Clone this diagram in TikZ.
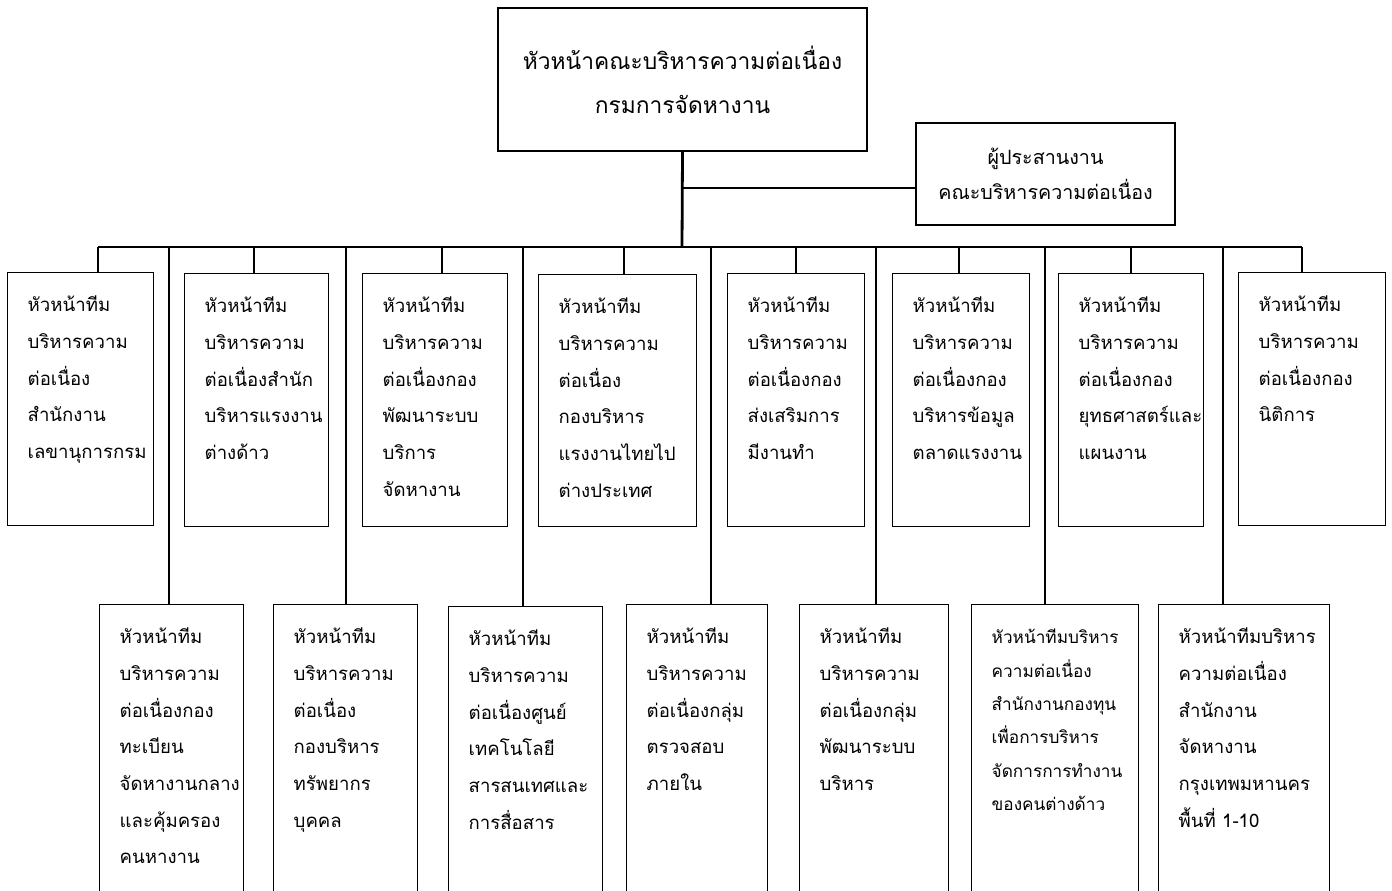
\documentclass[tikz,border=0pt]{standalone}
\usepackage{fontspec}
\newfontfamily\thaifont[Script=Thai]{Loma}
% text of a team box: width, height, lines
\newcommand{\celltext}[3]{\parbox[t][#2][t]{#1}{\leftskip=20pt\rule{0pt}{39pt}#3}}

\begin{document}
\begin{tikzpicture}[x=1pt, y=-1pt,
  unit/.style={draw, line width=1.4pt, inner sep=0pt, anchor=north west,
    font=\thaifont\fontsize{18.6}{36.7}\selectfont},
  small/.style={font=\thaifont\fontsize{17.2}{33.4}\selectfont},
  link/.style={line width=2.8pt}]
  \useasboundingbox (0,0) rectangle (1392,891);
  \clip (0,0) rectangle (1392,891);

  % head and coordinator
  \node[draw, line width=1.4pt, minimum width=369pt, minimum height=143pt, align=center,
    font=\thaifont\fontsize{22.8}{44}\selectfont] (head) at (682.5,79.5)
    {หัวหน้าคณะบริหารความต่อเนื่อง\\กรมการจัดหางาน};
  \node[draw, line width=1.4pt, minimum width=259pt, minimum height=102pt, align=center,
    font=\thaifont\fontsize{19.7}{35}\selectfont] (coord) at (1045.5,174)
    {ผู้ประสานงาน\\คณะบริหารความต่อเนื่อง};

  % upper row, y = 272 .. 526
  \node[unit] (up1) at (7,272)    {\celltext{146pt}{253pt}{หัวหน้าทีม\\บริหารความ\\ต่อเนื่อง\\สำนักงาน\\เลขานุการกรม}};
  \node[unit] (up2) at (184,273)  {\celltext{144pt}{253pt}{หัวหน้าทีม\\บริหารความ\\ต่อเนื่องสำนัก\\บริหารแรงงาน\\ต่างด้าว}};
  \node[unit] (up3) at (362,273)  {\celltext{145pt}{253pt}{หัวหน้าทีม\\บริหารความ\\ต่อเนื่องกอง\\พัฒนาระบบ\\บริการ\\จัดหางาน}};
  \node[unit] (up4) at (538,274)  {\celltext{158pt}{252pt}{หัวหน้าทีม\\บริหารความ\\ต่อเนื่อง\\กองบริหาร\\แรงงานไทยไป\\ต่างประเทศ}};
  \node[unit] (up5) at (727,273)  {\celltext{137pt}{253pt}{หัวหน้าทีม\\บริหารความ\\ต่อเนื่องกอง\\ส่งเสริมการ\\มีงานทำ}};
  \node[unit] (up6) at (892,273)  {\celltext{137pt}{253pt}{หัวหน้าทีม\\บริหารความ\\ต่อเนื่องกอง\\บริหารข้อมูล\\ตลาดแรงงาน}};
  \node[unit] (up7) at (1058,273) {\celltext{145pt}{253pt}{หัวหน้าทีม\\บริหารความ\\ต่อเนื่องกอง\\ยุทธศาสตร์และ\\แผนงาน}};
  \node[unit] (up8) at (1238,272) {\celltext{147pt}{253pt}{หัวหน้าทีม\\บริหารความ\\ต่อเนื่องกอง\\นิติการ}};

  % lower row, cut by the page edge
  \node[unit] (lo1) at (99,604)   {\celltext{144pt}{300pt}{หัวหน้าทีม\\บริหารความ\\ต่อเนื่องกอง\\ทะเบียน\\จัดหางานกลาง\\และคุ้มครอง\\คนหางาน}};
  \node[unit] (lo2) at (273,604)  {\celltext{144pt}{300pt}{หัวหน้าทีม\\บริหารความ\\ต่อเนื่อง\\กองบริหาร\\ทรัพยากร\\บุคคล}};
  \node[unit] (lo3) at (448,606)  {\celltext{154pt}{300pt}{หัวหน้าทีม\\บริหารความ\\ต่อเนื่องศูนย์\\เทคโนโลยี\\สารสนเทศและ\\การสื่อสาร}};
  \node[unit] (lo4) at (626,604)  {\celltext{141pt}{300pt}{หัวหน้าทีม\\บริหารความ\\ต่อเนื่องกลุ่ม\\ตรวจสอบ\\ภายใน}};
  \node[unit] (lo5) at (799,604)  {\celltext{149pt}{300pt}{หัวหน้าทีม\\บริหารความ\\ต่อเนื่องกลุ่ม\\พัฒนาระบบ\\บริหาร}};
  \node[unit, small] (lo6) at (971,604) {\celltext{167pt}{300pt}{หัวหน้าทีมบริหาร\\ความต่อเนื่อง\\สำนักงานกองทุน\\เพื่อการบริหาร\\จัดการการทำงาน\\ของคนต่างด้าว}};
  \node[unit] (lo7) at (1158,604) {\celltext{171pt}{300pt}{หัวหน้าทีมบริหาร\\ความต่อเนื่อง\\สำนักงาน\\จัดหางาน\\กรุงเทพมหานคร\\พื้นที่ 1-10}};

  % bus taps
  \coordinate (hub) at (682,247);
  \coordinate (branch) at (682,188);
  \coordinate (tu1) at (98,247);
  \coordinate (tu2) at (254,247);
  \coordinate (tu3) at (442,247);
  \coordinate (tu4) at (624,247);
  \coordinate (tu5) at (796,247);
  \coordinate (tu6) at (959,247);
  \coordinate (tu7) at (1131,247);
  \coordinate (tu8) at (1302,247);
  \coordinate (tl1) at (169,247);
  \coordinate (tl2) at (346,247);
  \coordinate (tl3) at (523,247);
  \coordinate (tl4) at (711,247);
  \coordinate (tl5) at (876,247);
  \coordinate (tl6) at (1045,247);
  \coordinate (tl7) at (1223,247);

  \draw[link] (head.south) -- (hub);
  \draw[link] (branch) -- (branch -| coord.west);
  \draw[link] (tu1) -- (tu8);

  % drops to the upper row
  \draw[link] (tu1) -- (tu1 |- up1.north);
  \draw[link] (tu2) -- (tu2 |- up2.north);
  \draw[link] (tu3) -- (tu3 |- up3.north);
  \draw[link] (tu4) -- (tu4 |- up4.north);
  \draw[link] (tu5) -- (tu5 |- up5.north);
  \draw[link] (tu6) -- (tu6 |- up6.north);
  \draw[link] (tu7) -- (tu7 |- up7.north);
  \draw[link] (tu8) -- (tu8 |- up8.north);

  % long drops to the lower row
  \draw[link] (tl1) -- (tl1 |- lo1.north);
  \draw[link] (tl2) -- (tl2 |- lo2.north);
  \draw[link] (tl3) -- (tl3 |- lo3.north);
  \draw[link] (tl4) -- (tl4 |- lo4.north);
  \draw[link] (tl5) -- (tl5 |- lo5.north);
  \draw[link] (tl6) -- (tl6 |- lo6.north);
  \draw[link] (tl7) -- (tl7 |- lo7.north);
\end{tikzpicture}
\end{document}
